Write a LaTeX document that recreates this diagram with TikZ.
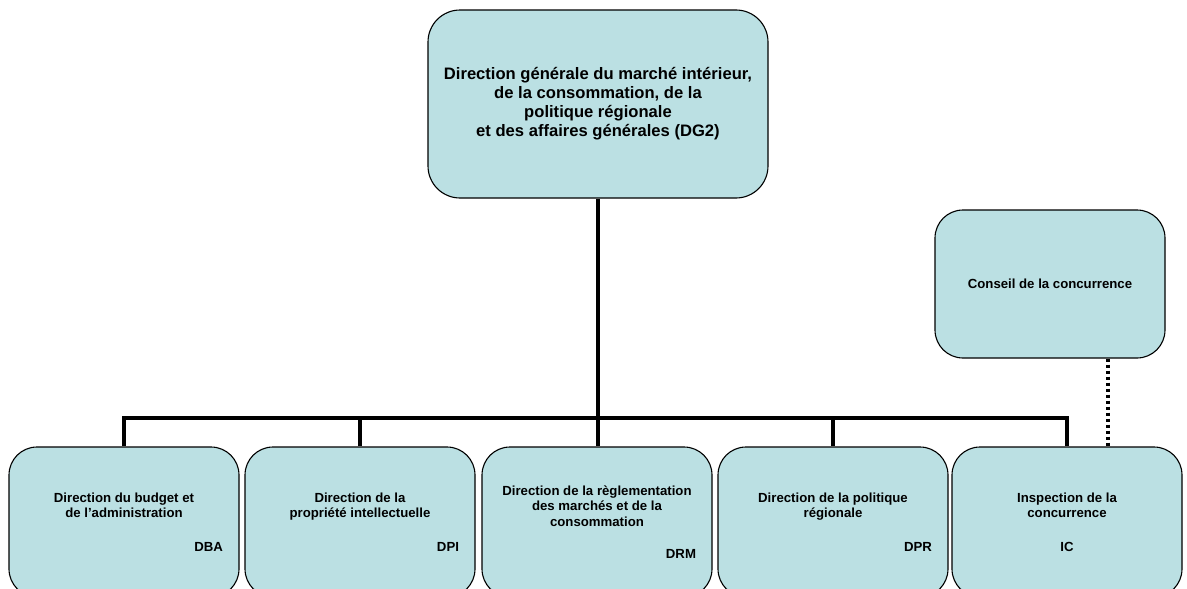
\documentclass[tikz,border=0pt]{standalone}
\usepackage{fontspec}
\setmainfont{Liberation Sans}
\definecolor{boxfill}{RGB}{187,224,227}
\begin{document}
\begin{tikzpicture}[x=1pt,y=-1pt,
  box/.style={draw=black,line width=1.1pt,fill=boxfill,rounded corners=28pt,inner sep=0pt,align=center,font=\bfseries},
  conn/.style={line width=3.8pt},
  dotline/.style={line width=4pt,dash pattern=on 3.5pt off 2.5pt}]
\clip (0,0) rectangle (1187,589);
\fill[white] (0,0) rectangle (1187,589);
\node[box,minimum width=340pt,minimum height=188pt,rounded corners=32pt,
  font=\bfseries\fontsize{16.6pt}{19pt}\selectfont] (dg) at (598,104)
  {Direction générale du marché intérieur,\\de la consommation, de la\\politique régionale\\et des affaires générales (DG2)};
\node[box,minimum width=230pt,minimum height=148pt,
  font=\bfseries\fontsize{13.2pt}{15.5pt}\selectfont] (cc) at (1050,284) {Conseil de la concurrence};
\tikzset{low/.style={box,minimum width=230pt,minimum height=150pt,
  font=\bfseries\fontsize{13.2pt}{15.5pt}\selectfont}}
\node[low] (dba) at (124,522) {\parbox{198pt}{\centering Direction du budget et\\de l'administration\\[18pt]\hfill DBA}};
\node[low] (dpi) at (360,522) {\parbox{198pt}{\centering Direction de la\\propriété intellectuelle\\[18pt]\hfill DPI}};
\node[low] (drm) at (597,522) {\parbox{198pt}{\centering Direction de la règlementation\\des marchés et de la\\consommation\\[17pt]\hfill DRM}};
\node[low] (dpr) at (833,522) {\parbox{198pt}{\centering Direction de la politique\\régionale\\[18pt]\hfill DPR}};
\node[low] (ic) at (1067,522) {\parbox{198pt}{\centering Inspection de la\\concurrence\\[18pt]IC}};
\coordinate (bus) at (0,418);
\coordinate (dotx) at (1108,0);
\draw[conn] (dba.north) -- (dba.north |- bus) -- (ic.north |- bus) -- (ic.north);
\draw[conn] (dpi.north) -- (dpi.north |- bus);
\draw[conn] (dpr.north) -- (dpr.north |- bus);
\draw[conn] (dg.south) -- (dg.south |- drm.north);
\draw[dotline] (cc.south -| dotx) -- (ic.north -| dotx);
\end{tikzpicture}
\end{document}
